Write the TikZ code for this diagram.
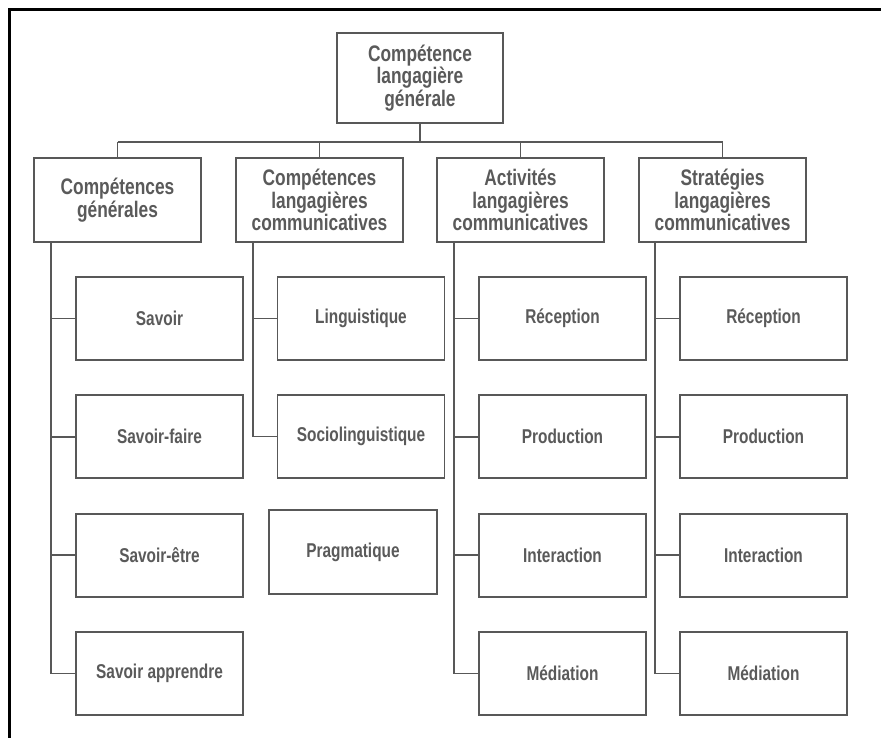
\documentclass[tikz,border=0pt]{standalone}
\usepackage{fontspec}
\newfontfamily\lblfont[FakeStretch=0.77]{Liberation Sans Bold}
\definecolor{boxline}{HTML}{585858}
\definecolor{boxtext}{HTML}{5A5A5A}
\begin{document}
\begin{tikzpicture}[x=1pt,y=-1pt,
  box/.style={draw=boxline, line width=1.8pt, fill=white, text=boxtext,
    align=center, inner sep=0pt, font=\lblfont},
  headbox/.style={box, minimum width=167pt, minimum height=84pt,
    font=\lblfont\fontsize{22.5}{22.8}\selectfont},
  leafbox/.style={box, minimum width=167pt, minimum height=83pt,
    font=\lblfont\fontsize{20}{22}\selectfont},
  link/.style={draw=boxline, line width=1.8pt}]
\useasboundingbox (0,0) rectangle (881,738);

% outer frame (top and left edges)
\draw[line width=3pt, black] (881,10) -- (9,10) -- (9,738);

% root
\node[headbox, minimum width=166pt, minimum height=90pt] (root) at (420,78)
  {Compétence\\langagière\\générale};

% first level
\node[headbox] (c1) at (117.5,200) {Compétences\\générales};
\node[headbox] (c2) at (319.5,200) {Compétences\\langagières\\communicatives};
\node[headbox] (c3) at (520.5,200) {Activités\\langagières\\communicatives};
\node[headbox] (c4) at (722.5,200) {Stratégies\\langagières\\communicatives};

% bus between root and first level
\coordinate (bus) at (0,142);
\draw[link] (root.south) -- (root.south |- bus);
\draw[link] (c1.north |- bus) -- (c4.north |- bus);
\foreach \c in {c1,c2,c3,c4}
  \draw[link] (\c.north) -- (\c.north |- bus);

% spine positions
\coordinate (sp1) at (51,0);
\coordinate (sp2) at (253,0);
\coordinate (sp3) at (454,0);
\coordinate (sp4) at (655,0);

% column 1
\node[leafbox] (a1) at (159.5,318.5) {Savoir};
\node[leafbox] (a2) at (159.5,436.8) {Savoir-faire};
\node[leafbox] (a3) at (159.5,555.2) {Savoir-être};
\node[leafbox] (a4) at (159.5,673.5) {Savoir apprendre};

% column 2
\node[leafbox] (b1) at (361,318.5) {Linguistique};
\node[leafbox] (b2) at (361,436.5) {Sociolinguistique};
\node[leafbox, minimum width=168pt, minimum height=84pt] (b3) at (353,552) {Pragmatique};

% column 3
\node[leafbox] (d1) at (562.5,318.5) {Réception};
\node[leafbox] (d2) at (562.5,436.8) {Production};
\node[leafbox] (d3) at (562.5,555.2) {Interaction};
\node[leafbox] (d4) at (562.5,673.5) {Médiation};

% column 4
\node[leafbox] (e1) at (763.5,318.5) {Réception};
\node[leafbox] (e2) at (763.5,436.8) {Production};
\node[leafbox] (e3) at (763.5,555.2) {Interaction};
\node[leafbox] (e4) at (763.5,673.5) {Médiation};

% spines and branches
\draw[link] (c1.south -| sp1) |- (a4.west);
\foreach \n in {a1,a2,a3} \draw[link] (\n.west -| sp1) -- (\n.west);
\draw[link] (c2.south -| sp2) |- (b2.west);
\draw[link] (b1.west -| sp2) -- (b1.west);
\draw[link] (c3.south -| sp3) |- (d4.west);
\foreach \n in {d1,d2,d3} \draw[link] (\n.west -| sp3) -- (\n.west);
\draw[link] (c4.south -| sp4) |- (e4.west);
\foreach \n in {e1,e2,e3} \draw[link] (\n.west -| sp4) -- (\n.west);
\end{tikzpicture}
\end{document}
